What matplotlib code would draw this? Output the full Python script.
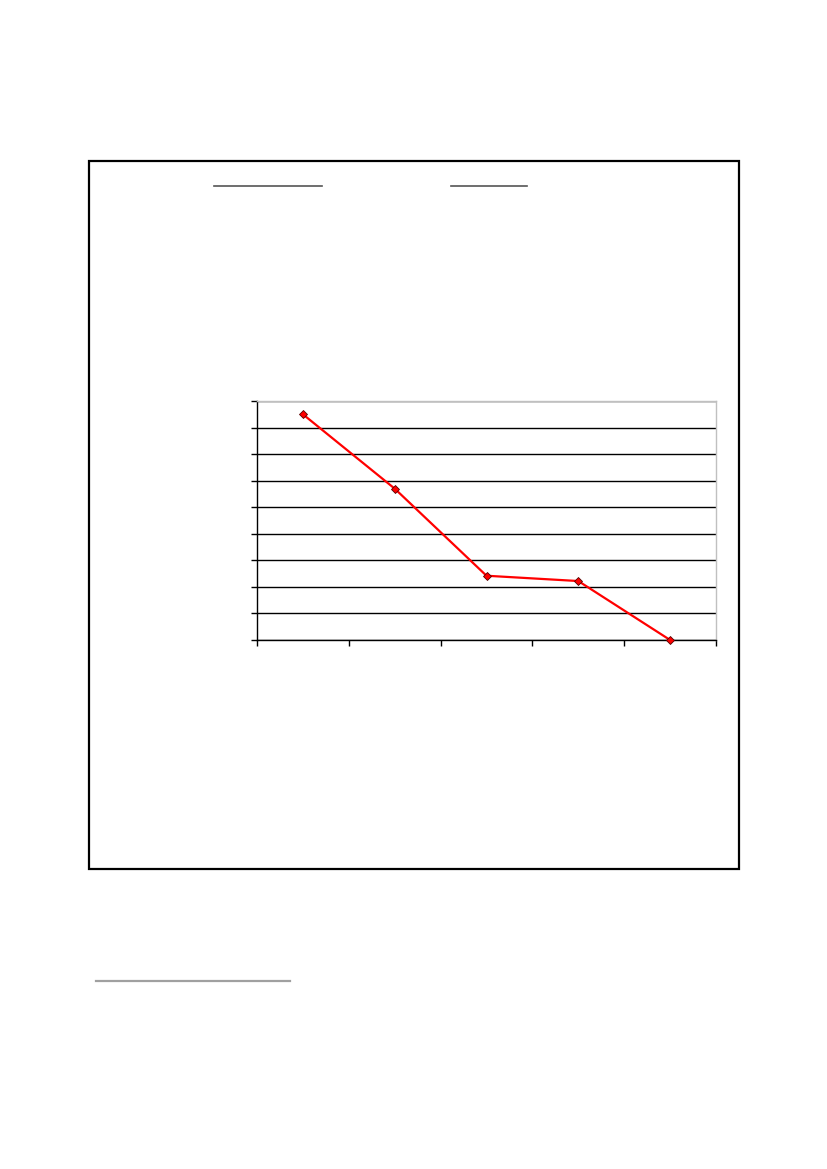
import numpy as np
import matplotlib.pyplot as plt
from matplotlib.lines import Line2D
from matplotlib.patches import Rectangle

# category positions and values (no labels shown)
categories = [0, 1, 2, 3, 4]
values = [8.5, 5.7, 2.42, 2.22, 0.0]
y_ticks = list(range(0, 10))

W, H = 827, 1169
fig = plt.figure(figsize=(W / 100, H / 100), dpi=100)


def fx(px):
    return px / W


def fy(py):
    return 1 - py / H


# outer frame
fig.patches.append(Rectangle((fx(89), fy(869)), fx(739) - fx(89), fy(161) - fy(869),
                             transform=fig.transFigure, fill=False,
                             edgecolor='black', linewidth=1.6))

# underline rules at top of frame and footnote rule
for x0, x1, y, c, lw in [(214, 322, 186, '#555555', 1.2),
                         (451, 527, 186, '#555555', 1.2),
                         (96, 290, 981, '#a0a0a0', 1.6)]:
    fig.lines.append(Line2D([fx(x0), fx(x1)], [fy(y), fy(y)],
                            transform=fig.transFigure, color=c, linewidth=lw))

ax = fig.add_axes([fx(257), fy(640), fx(716) - fx(257), fy(401) - fy(640)])
ax.plot(categories, values, color='red', linewidth=1.6, marker='D', markersize=4.5,
        markerfacecolor='red', markeredgecolor='#550000', markeredgewidth=0.6,
        clip_on=False, zorder=3)

ax.set_xlim(-0.5, 4.5)
ax.set_ylim(0, 9)
ax.set_yticks(y_ticks)
ax.set_xticks(np.arange(-0.5, 5, 1))
ax.set_yticklabels([])
ax.set_xticklabels([])
ax.tick_params(axis='both', direction='out', length=4, width=1, color='black')
ax.yaxis.grid(True, color='black', linewidth=1)
ax.set_axisbelow(True)
for s in ['left', 'bottom']:
    ax.spines[s].set_color('black')
    ax.spines[s].set_linewidth(1)
for s in ['top', 'right']:
    ax.spines[s].set_color('#c0c0c0')
    ax.spines[s].set_linewidth(1)

fig.savefig('out.png', dpi=100)
